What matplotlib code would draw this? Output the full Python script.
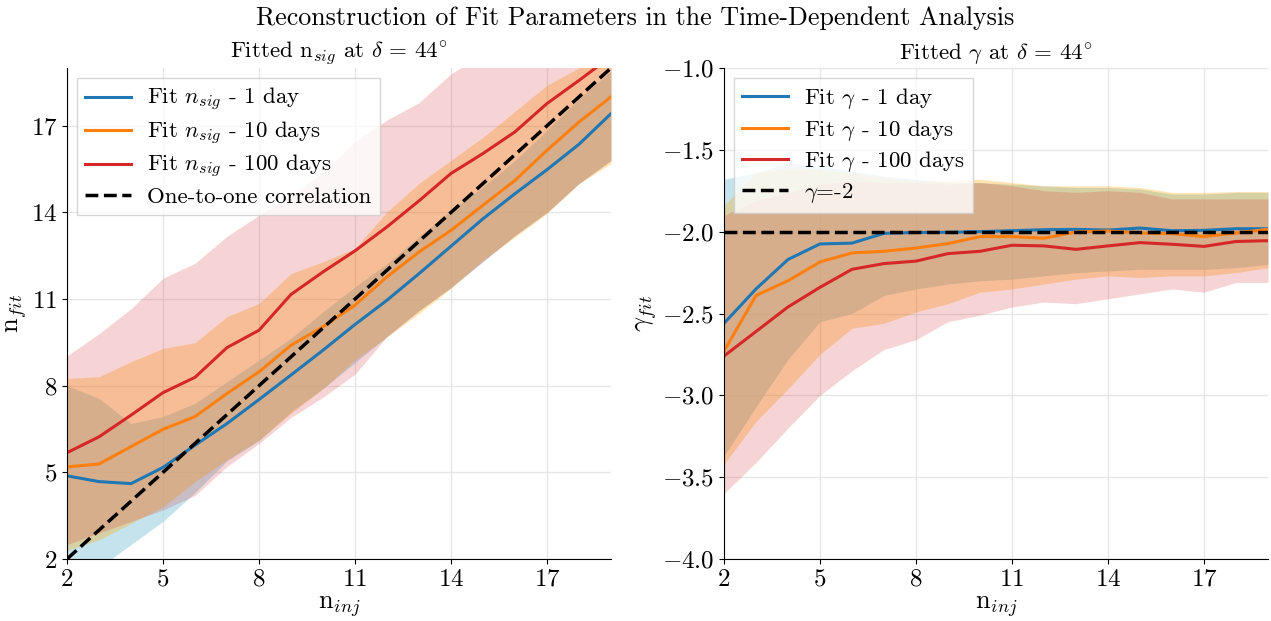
import numpy as np
import matplotlib
matplotlib.use('Agg')
import matplotlib.pyplot as plt

plt.rcParams['font.family'] = 'serif'
plt.rcParams['font.serif'] = ['cmr10']
plt.rcParams['mathtext.fontset'] = 'cm'
plt.rcParams['axes.formatter.use_mathtext'] = True
plt.rcParams['font.size'] = 16

# injected signal events
n_inj = [2, 3, 4, 5, 6, 7, 8, 9, 10, 11, 12, 13, 14, 15, 16, 17, 18, 19]

# fitted n_sig (median) for 1, 10, 100 days
nsig_1d = [4.88, 4.68, 4.61, 5.17, 5.94, 6.69, 7.52, 8.37, 9.23, 10.12, 10.96, 11.88, 12.83, 13.78, 14.65, 15.48, 16.36, 17.42]
nsig_10d = [5.19, 5.29, 5.89, 6.49, 6.93, 7.73, 8.48, 9.40, 10.04, 10.79, 11.77, 12.63, 13.38, 14.25, 15.11, 16.15, 17.13, 18.00]
nsig_100d = [5.68, 6.23, 6.98, 7.76, 8.29, 9.32, 9.92, 11.16, 11.94, 12.67, 13.50, 14.40, 15.35, 16.04, 16.79, 17.77, 18.57, 19.40]

# n_sig bands (lower / upper)
nsig_1d_lo = [1.9, 1.7, 2.5, 3.3, 4.3, 5.4, 6.1, 7.1, 7.9, 8.8, 9.7, 10.6, 11.4, 12.3, 13.2, 14.0, 15.0, 15.8]
nsig_1d_hi = [8.0, 7.56, 6.69, 6.93, 7.39, 8.14, 8.89, 9.64, 10.56, 11.42, 12.23, 13.15, 14.08, 14.88, 15.80, 16.84, 17.94, 18.90]
nsig_10d_lo = [2.3, 2.66, 3.23, 3.81, 4.68, 5.43, 6.12, 7.04, 7.9, 8.89, 9.69, 10.5, 11.37, 12.35, 13.15, 13.96, 15.0, 15.69]
nsig_10d_hi = [8.25, 8.31, 8.83, 9.29, 9.49, 10.39, 10.85, 11.88, 12.29, 12.75, 14.02, 15.0, 15.8, 16.6, 17.5, 18.4, 19.0, 19.8]
nsig_100d_lo = [2.5, 2.9, 3.3, 3.7, 4.2, 5.2, 6.0, 6.9, 7.6, 8.4, 9.7, 10.6, 11.4, 12.3, 13.2, 14.0, 15.0, 15.8]
nsig_100d_hi = [9.03, 9.8, 10.66, 11.72, 12.24, 13.17, 13.9, 14.55, 15.4, 16.45, 17.2, 17.8, 18.8, 19.5, 20.5, 21.0, 22.0, 23.0]

# fitted gamma (median)
gam_1d = [-2.56, -2.35, -2.17, -2.075, -2.07, -2.01, -2.005, -2.004, -2.0, -1.994, -1.988, -1.986, -1.99, -1.978, -1.994, -1.992, -1.982, -1.982]
gam_10d = [-2.73, -2.39, -2.30, -2.185, -2.13, -2.12, -2.10, -2.073, -2.03, -2.03, -2.04, -2.002, -1.996, -2.008, -2.012, -2.03, -2.008, -1.986]
gam_100d = [-2.76, -2.61, -2.46, -2.34, -2.23, -2.195, -2.18, -2.134, -2.12, -2.083, -2.087, -2.108, -2.087, -2.067, -2.077, -2.09, -2.06, -2.055]

# gamma bands (lower / upper)
gam_1d_lo = [-3.37, -3.07, -2.78, -2.55, -2.50, -2.39, -2.35, -2.32, -2.30, -2.29, -2.27, -2.25, -2.24, -2.23, -2.23, -2.23, -2.22, -2.20]
gam_1d_hi = [-1.68, -1.64, -1.58, -1.60, -1.63, -1.66, -1.68, -1.70, -1.70, -1.71, -1.72, -1.73, -1.73, -1.74, -1.77, -1.77, -1.76, -1.76]
gam_10d_lo = [-3.42, -3.16, -2.96, -2.75, -2.59, -2.56, -2.49, -2.44, -2.37, -2.35, -2.32, -2.29, -2.27, -2.28, -2.27, -2.27, -2.25, -2.22]
gam_10d_hi = [-1.84, -1.64, -1.61, -1.62, -1.64, -1.67, -1.69, -1.69, -1.68, -1.70, -1.72, -1.72, -1.72, -1.73, -1.76, -1.76, -1.755, -1.755]
gam_100d_lo = [-3.60, -3.41, -3.20, -3.0, -2.85, -2.72, -2.66, -2.55, -2.51, -2.46, -2.43, -2.44, -2.41, -2.38, -2.35, -2.37, -2.31, -2.31]
gam_100d_hi = [-1.90, -1.81, -1.76, -1.71, -1.69, -1.70, -1.70, -1.71, -1.70, -1.72, -1.75, -1.76, -1.75, -1.76, -1.80, -1.80, -1.80, -1.80]

labels_days = ['1 day', '10 days', '100 days']
line_colors = ['tab:blue', 'tab:orange', 'tab:red']
band_colors = ['lightblue', 'orange', 'tab:red']
band_alphas = [0.7, 0.3, 0.2]

fig = plt.figure(figsize=(12.71, 6.21), dpi=100)
ax1 = fig.add_axes([67 / 1271, 62 / 621, 544 / 1271, 491 / 621])
ax2 = fig.add_axes([724 / 1271, 62 / 621, 544 / 1271, 491 / 621])

x = np.array(n_inj)
leg_kw = dict(loc='upper left', fancybox=False, fontsize=16.5, labelspacing=0.28,
              handlelength=2.0, handletextpad=0.7, borderaxespad=0.45, borderpad=0.35)

# left panel: n_sig
lo_n = [nsig_1d_lo, nsig_10d_lo, nsig_100d_lo]
hi_n = [nsig_1d_hi, nsig_10d_hi, nsig_100d_hi]
for lo, hi, c, a in zip(lo_n, hi_n, band_colors, band_alphas):
    ax1.fill_between(x, lo, hi, color=c, alpha=a, lw=0)
for y, c, lab in zip([nsig_1d, nsig_10d, nsig_100d], line_colors, labels_days):
    ax1.plot(x, y, color=c, lw=2.2, label=r'Fit $n_{sig}$ - ' + lab)
ax1.plot([2, 19], [2, 19], 'k--', lw=2.5, label='One-to-one correlation')

ax1.set_xlim(2, 19)
ax1.set_ylim(2, 19)
ax1.set_xticks([2, 5, 8, 11, 14, 17])
ax1.set_yticks([2, 5, 8, 11, 14, 17])
ax1.set_xlabel(r'n$_{inj}$', fontsize=19, labelpad=2)
ax1.set_ylabel(r'n$_{fit}$', fontsize=19, labelpad=1)
ax1.set_title(r'Fitted n$_{sig}$ at $\delta$ = $44^{\circ}$', fontsize=16.5, pad=5)
ax1.legend(**leg_kw)

# right panel: gamma
lo_g = [gam_1d_lo, gam_10d_lo, gam_100d_lo]
hi_g = [gam_1d_hi, gam_10d_hi, gam_100d_hi]
for lo, hi, c, a in zip(lo_g, hi_g, band_colors, band_alphas):
    ax2.fill_between(x, lo, hi, color=c, alpha=a, lw=0)
for y, c, lab in zip([gam_1d, gam_10d, gam_100d], line_colors, labels_days):
    ax2.plot(x, y, color=c, lw=2.2, label=r'Fit $\gamma$ - ' + lab)
ax2.axhline(-2, color='k', ls='--', lw=2.5, label=r'$\gamma$=-2')

ax2.set_xlim(2, 19)
ax2.set_ylim(-4, -1)
ax2.set_xticks([2, 5, 8, 11, 14, 17])
ax2.set_yticks([-4.0, -3.5, -3.0, -2.5, -2.0, -1.5, -1.0])
ax2.set_xlabel(r'n$_{inj}$', fontsize=19, labelpad=2)
ax2.set_ylabel(r'$\gamma_{fit}$', fontsize=19, labelpad=2)
ax2.set_title(r'Fitted $\gamma$ at $\delta$ = $44^{\circ}$', fontsize=16.5, pad=5)
ax2.legend(**leg_kw)

for ax in (ax1, ax2):
    ax.spines['top'].set_visible(False)
    ax.spines['right'].set_visible(False)
    ax.grid(True, color='#e6e6e6', lw=1)
    ax.set_axisbelow(True)
    ax.tick_params(labelsize=18)

fig.suptitle('Reconstruction of Fit Parameters in the Time-Dependent Analysis', fontsize=18.7, y=0.99)

plt.savefig('out.png', dpi=100)
